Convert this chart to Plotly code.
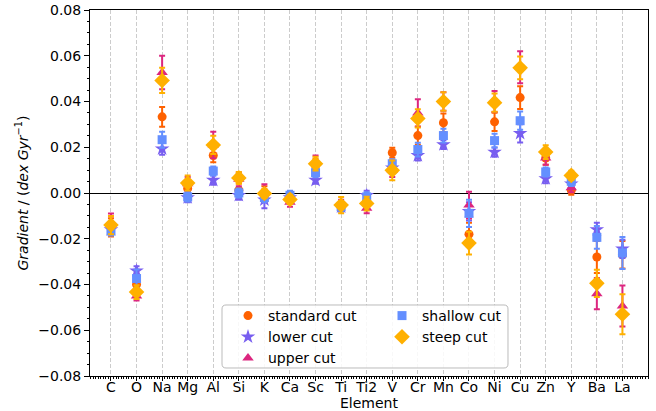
import numpy as np
import plotly.graph_objects as go

elements = ["C", "O", "Na", "Mg", "Al", "Si", "K", "Ca", "Sc", "Ti", "Ti2",
            "V", "Cr", "Mn", "Co", "Ni", "Cu", "Zn", "Y", "Ba", "La"]

standard = [-0.015, -0.040, 0.0333, 0.002, 0.0164, 0.0012, 0.0, -0.002, 0.012, -0.006, -0.004,
            0.0176, 0.0251, 0.0307, -0.018, 0.0311, 0.0417, 0.0153, 0.0012, -0.028, -0.027]
standard_err = [0.004, 0.004, 0.0043, 0.003, 0.003, 0.003, 0.003, 0.002, 0.003, 0.002, 0.003,
                0.0022, 0.004, 0.004, 0.005, 0.004, 0.005, 0.003, 0.002, 0.007, 0.006]

lower = [-0.016, -0.034, 0.0193, -0.002, 0.0056, -0.001, -0.003, -0.002, 0.0056, -0.006, -0.001,
         0.011, 0.0164, 0.0212, -0.008, 0.0179, 0.0261, 0.0063, 0.004, -0.016, -0.0244]
lower_err = [0.002, 0.002, 0.0026, 0.002, 0.002, 0.002, 0.0037, 0.002, 0.0016, 0.002, 0.002,
             0.002, 0.0022, 0.002, 0.004, 0.002, 0.004, 0.002, 0.002, 0.003, 0.004]

upper = [-0.013, -0.045, 0.0527, 0.004, 0.021, 0.006, 0.0, -0.004, 0.013, -0.005, -0.0067,
         0.010, 0.035, 0.040, -0.0053, 0.040, 0.055, 0.0153, 0.0023, -0.044, -0.0494]
upper_err = [0.004, 0.002, 0.0073, 0.003, 0.0058, 0.003, 0.0038, 0.002, 0.0034, 0.002, 0.0022,
             0.003, 0.006, 0.004, 0.0058, 0.0046, 0.007, 0.003, 0.002, 0.0068, 0.009]

shallow = [-0.0166, -0.0374, 0.0233, -0.0017, 0.0096, 0.0, -0.002, -0.001, 0.0089, -0.006, -0.0017,
           0.0128, 0.019, 0.0251, -0.0089, 0.0229, 0.0316, 0.0092, 0.0051, -0.0194, -0.0262]
shallow_err = [0.002, 0.004, 0.0035, 0.002, 0.002, 0.002, 0.002, 0.002, 0.002, 0.002, 0.002,
               0.002, 0.003, 0.003, 0.006, 0.003, 0.004, 0.002, 0.002, 0.005, 0.007]

steep = [-0.014, -0.0433, 0.0492, 0.0044, 0.021, 0.0066, -0.0002, -0.0028, 0.0128, -0.0053, -0.0046,
         0.0099, 0.0326, 0.040, -0.0219, 0.0395, 0.0547, 0.0179, 0.0077, -0.0395, -0.053]
steep_err = [0.004, 0.003, 0.0055, 0.0033, 0.004, 0.0026, 0.002, 0.002, 0.003, 0.0036, 0.003,
             0.0043, 0.004, 0.004, 0.005, 0.004, 0.005, 0.003, 0.002, 0.006, 0.0087]

series = [
    ("standard cut", standard, standard_err, "#FE6100", "circle", 9, "legend"),
    ("lower cut", lower, lower_err, "#785EF0", "star", 11, "legend"),
    ("upper cut", upper, upper_err, "#DC267F", "triangle-up", 10, "legend"),
    ("shallow cut", shallow, shallow_err, "#648FFF", "square", 9, "legend2"),
    ("steep cut", steep, steep_err, "#FFB000", "diamond", 12, "legend2"),
]

x = np.arange(len(elements))
FONT = "DejaVu Sans"

fig = go.Figure()
for name, vals, errs, color, sym, size, leg in series:
    fig.add_trace(go.Scatter(
        x=x, y=vals, mode="markers", name=name, legend=leg,
        marker=dict(color=color, symbol=sym, size=size, line=dict(width=0)),
        error_y=dict(type="data", array=errs, visible=True, color=color,
                     thickness=2, width=3),
    ))

W, H = 656, 411
ml, mr, mt, mb = 90, 8, 10, 35
pw, ph = W - ml - mr, H - mt - mb

def px2paper(px, py):
    return (px - ml) / pw, (H - mb - py) / ph

# rounded legend frame
bx0, by0, bx1, by1 = 222, 305, 508, 368
r = 4
def P(px, py):
    a, b = px2paper(px, py)
    return f"{a:.5f},{b:.5f}"
path = (f"M {P(bx0 + r, by0)} L {P(bx1 - r, by0)} Q {P(bx1, by0)} {P(bx1, by0 + r)} "
        f"L {P(bx1, by1 - r)} Q {P(bx1, by1)} {P(bx1 - r, by1)} "
        f"L {P(bx0 + r, by1)} Q {P(bx0, by1)} {P(bx0, by1 - r)} "
        f"L {P(bx0, by0 + r)} Q {P(bx0, by0)} {P(bx0 + r, by0)} Z")

lx1, ly1 = px2paper(228, 300)
lx2, _ = px2paper(382, 300)

fig.update_layout(
    width=W, height=H,
    margin=dict(l=ml, r=mr, t=mt, b=mb, autoexpand=False),
    paper_bgcolor="white", plot_bgcolor="white",
    font=dict(family=FONT, size=14, color="black"),
    shapes=[dict(type="path", path=path, xref="paper", yref="paper",
                 line=dict(color="#bbbbbb", width=1),
                 fillcolor="rgba(255,255,255,0.85)", layer="above")],
    legend=dict(x=lx1, y=ly1, xanchor="left", yanchor="top",
                bgcolor="rgba(0,0,0,0)", borderwidth=0,
                font=dict(family=FONT, size=14), tracegroupgap=0),
    legend2=dict(x=lx2, y=ly1, xanchor="left", yanchor="top",
                 bgcolor="rgba(0,0,0,0)", borderwidth=0,
                 font=dict(family=FONT, size=14), tracegroupgap=0),
    xaxis=dict(
        range=[-0.82, 21.0], tickmode="array", tickvals=x, ticktext=elements,
        automargin=True, ticklabelstandoff=-6,
        showgrid=True, gridcolor="#cccccc", griddash="4px,2px", gridwidth=1,
        zeroline=False, showline=True, linecolor="black", linewidth=1, mirror=True,
        ticks="outside", ticklen=4, tickcolor="black",
        minor=dict(dtick=0.1, tick0=0, ticks="outside", ticklen=2, tickcolor="black", showgrid=False),
        title=dict(text="Element", standoff=2, font=dict(family=FONT, size=14)),
        tickfont=dict(family=FONT, size=14),
    ),
    yaxis=dict(
        range=[-0.08, 0.08], tickmode="linear", tick0=-0.08, dtick=0.02, tickformat=".2f",
        automargin=True,
        showgrid=False, zeroline=True, zerolinecolor="black", zerolinewidth=1,
        showline=True, linecolor="black", linewidth=1, mirror=True,
        ticks="outside", ticklen=5, tickcolor="black",
        minor=dict(dtick=0.005, ticks="outside", ticklen=2.5, tickcolor="black", showgrid=False),
        title=dict(text="<i>Gradient</i> / (<i>dex Gyr</i><sup>−1</sup>)", standoff=6,
                   font=dict(family=FONT, size=14)),
        tickfont=dict(family=FONT, size=14),
    ),
)

fig.write_html("out.html")
